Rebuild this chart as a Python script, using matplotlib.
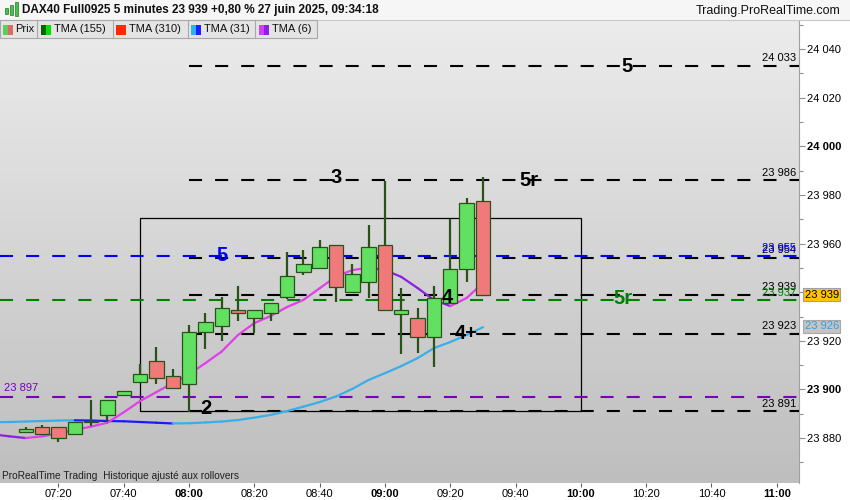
import matplotlib.pyplot as plt
import numpy as np
from matplotlib.collections import LineCollection
from matplotlib.colors import LinearSegmentedColormap
from matplotlib.patches import Rectangle

plt.rcParams["font.family"] = ["Liberation Sans", "DejaVu Sans"]
plt.rcParams["lines.scale_dashes"] = False

# ---- values ----
candle_times = ["07:10", "07:15", "07:20", "07:25", "07:30", "07:35", "07:40",
                "07:45", "07:50", "07:55", "08:00", "08:05", "08:10", "08:15",
                "08:20", "08:25", "08:30", "08:35", "08:40", "08:45", "08:50",
                "08:55", "09:00", "09:05", "09:10", "09:15", "09:20", "09:25",
                "09:30"]
opens = [23882.3, 23884.4, 23884.4, 23881.5, 23886.5, 23889.3, 23897.6,
         23903.2, 23911.6, 23905.4, 23902.3, 23923.5, 23926.2, 23932.6,
         23929.3, 23931.3, 23938.0, 23948.4, 23950.1, 23959.3, 23940.2,
         23944.3, 23959.3, 23931.2, 23929.3, 23921.4, 23935.7, 23949.4,
         23977.4]
highs = [23884.4, 23885.3, 23884.4, 23886.5, 23895.6, 23895.5, 23899.2,
         23910.3, 23917.3, 23908.3, 23926.5, 23931.3, 23938.1, 23942.6,
         23932.6, 23935.4, 23956.4, 23957.4, 23961.5, 23959.3, 23951.5,
         23967.7, 23985.8, 23941.6, 23933.4, 23942.4, 23970.1, 23978.6,
         23987.5]
lows = [23882.3, 23881.5, 23878.2, 23881.5, 23885.1, 23886.5, 23897.6,
        23903.2, 23902.2, 23900.5, 23890.8, 23916.5, 23920.0, 23928.3,
        23923.3, 23928.3, 23937.2, 23947.1, 23950.1, 23936.1, 23940.2,
        23937.5, 23932.6, 23914.4, 23915.1, 23909.3, 23935.7, 23944.3,
        23939.0]
closes = [23883.6, 23881.5, 23880.1, 23886.5, 23886.5, 23895.5, 23899.2,
          23906.2, 23904.6, 23900.5, 23923.5, 23927.6, 23933.4, 23931.3,
          23932.6, 23935.4, 23946.5, 23951.5, 23958.5, 23942.3, 23947.4,
          23958.5, 23932.6, 23932.7, 23921.4, 23937.5, 23949.4, 23976.6,
          23939.0]

ma_times = ["07:00", "07:05"] + candle_times
tma31 = [23886.5, 23886.6, 23886.8, 23887.0, 23887.2, 23887.3, 23887.2,
         23887.0, 23886.9, 23886.6, 23886.3, 23886.0, 23886.1, 23886.4,
         23886.8, 23887.4, 23888.4, 23889.5, 23891.1, 23892.9, 23894.8,
         23897.1, 23900.2, 23903.9, 23906.7, 23909.6, 23912.9, 23917.0,
         23919.5, 23922.4, 23925.6]
tma6 = [23881.5, 23880.7, 23880.0, 23880.7, 23881.9, 23883.3, 23884.7,
        23886.3, 23890.6, 23895.2, 23898.9, 23902.6, 23906.3, 23910.8,
        23915.6, 23922.4, 23927.3, 23930.2, 23933.9, 23936.8, 23941.6,
        23946.5, 23949.1, 23950.1, 23949.1, 23946.3, 23941.7, 23936.8,
        23934.3, 23937.6, 23943.8]

black_levels = [24033, 23986, 23954, 23939, 23923, 23891]
blue_level = 23955
green_level = 23937
purple_level = 23897

wave_labels = ["5", "3", "5r", "5", "4", "5r", "4+", "2"]
wave_times = ["10:14", "08:45", "09:44", "08:10", "09:19", "10:13", "09:25", "08:05"]
wave_prices = [24033, 23987, 23986, 23955, 23938, 23937.5, 23923, 23892.3]
wave_colors = ["black", "black", "black", "#0000ff", "black", "#008000", "black", "black"]

box_times = ["07:45", "10:00"]
box_prices = [23891, 23970.5]

last_price = 23939
last_tma31 = 23926

x_ticks = ["07:20", "07:40", "08:00", "08:20", "08:40", "09:00", "09:20",
           "09:40", "10:00", "10:20", "10:40", "11:00"]
y_ticks = [23880, 23900, 23920, 23940, 23960, 23980, 24000, 24020, 24040]


def tmin(s):
    h, m = s.split(":")
    return int(h) * 60 + int(m)


def fmt(v):
    return f"{int(round(v)):,}".replace(",", " ")


def colored_line(ax, xs, ys, up, down, lw=1.6):
    pts = np.column_stack([xs, ys])
    segs = np.stack([pts[:-1], pts[1:]], axis=1)
    cols = [up if ys[i + 1] >= ys[i] else down for i in range(len(ys) - 1)]
    ax.add_collection(LineCollection(segs, colors=cols, linewidths=lw,
                                     capstyle="round", zorder=4))


W, H = 850, 500
fig = plt.figure(figsize=(8.5, 5), dpi=100)
fig.patch.set_facecolor("white")
ax = fig.add_axes([0, 17 / H, 799 / W, 463 / H])

# gradient background
bg = LinearSegmentedColormap.from_list("bg", ["#ececec", "#bebebe"])
ax.imshow(np.linspace(0, 1, 256).reshape(-1, 1), cmap=bg, aspect="auto",
          extent=[0, 1, 0, 1], transform=ax.transAxes, zorder=0)

xl = (422.1, 666.8)
yl = (23861.5, 24052.0)

# rectangle
bx = [tmin(t) for t in box_times]
ax.add_patch(Rectangle((bx[0], box_prices[0]), bx[1] - bx[0],
                       box_prices[1] - box_prices[0], fill=False,
                       edgecolor="black", lw=0.9, zorder=2))

# horizontal levels
dash = (0, (9.4, 9.4))
x_start = tmin("08:00")
for lv in black_levels:
    ax.plot([x_start, xl[1]], [lv, lv], color="black", lw=1.5, ls=dash, zorder=3)
ax.plot(xl, [blue_level] * 2, color="#0000ff", lw=1.5, ls=dash, zorder=3)
ax.plot(xl, [green_level] * 2, color="#008000", lw=1.5, ls=dash, zorder=3)
ax.plot(xl, [purple_level] * 2, color="#7a00c0", lw=1.5, ls=dash, zorder=3)

# level value labels
for lv in black_levels:
    ax.annotate(fmt(lv), (xl[1], lv), xytext=(-2, 2), textcoords="offset points",
                ha="right", va="bottom", fontsize=8, color="black", zorder=6)
ax.annotate(fmt(blue_level), (xl[1], blue_level), xytext=(-2, 2),
            textcoords="offset points", ha="right", va="bottom", fontsize=8,
            color="#0000ff", zorder=6)
ax.annotate(fmt(green_level), (xl[1], green_level), xytext=(-2, 1),
            textcoords="offset points", ha="right", va="bottom", fontsize=8,
            color="#008000", zorder=6)
ax.annotate(fmt(purple_level), (xl[0], purple_level), xytext=(3, 2.5),
            textcoords="offset points", ha="left", va="bottom", fontsize=8,
            color="#7a00c0", zorder=6)

# moving averages
mx = [tmin(t) for t in ma_times]
colored_line(ax, mx, tma31, "#3aaee8", "#1a1aff")
colored_line(ax, mx, tma6, "#e040e8", "#8a20e0")

# candles
cx = [tmin(t) for t in candle_times]
bw = 4.4
edge = "#2a5218"
for x, o, h, l, c in zip(cx, opens, highs, lows, closes):
    ax.vlines(x, l, h, color=edge, lw=1.6, zorder=5)
    face = "#62e062" if c >= o else "#f07a7a"
    ax.add_patch(Rectangle((x - bw / 2, min(o, c)), bw, max(abs(c - o), 0.5),
                           facecolor=face, edgecolor=edge, lw=0.9, zorder=5))

# wave labels
for txt, t, p, col in zip(wave_labels, wave_times, wave_prices, wave_colors):
    ax.text(tmin(t), p, txt, ha="center", va="center", fontsize=14.5,
            fontweight="bold", color=col, zorder=7)

ax.set_xlim(*xl)
ax.set_ylim(*yl)

# axes styling
for s in ["top", "bottom", "left"]:
    ax.spines[s].set_visible(False)
ax.spines["right"].set_color("#a0a0a0")
ax.yaxis.tick_right()
ax.set_yticks(y_ticks)
ax.set_yticks(np.arange(23870, 24051, 10), minor=True)
ax.set_yticklabels([fmt(v) for v in y_ticks])
for lab, v in zip(ax.get_yticklabels(), y_ticks):
    if v % 100 == 0:
        lab.set_fontweight("bold")
        lab.set_fontsize(9)
ax.tick_params(axis="y", which="major", direction="out", length=4, width=0.8,
               color="#909090", labelsize=8, pad=2)
ax.tick_params(axis="y", which="minor", direction="out", length=3, width=0.8,
               color="#909090")
ax.set_xticks([tmin(t) for t in x_ticks])
ax.set_xticklabels(x_ticks)
for lab, t in zip(ax.get_xticklabels(), x_ticks):
    if t.endswith(":00"):
        lab.set_fontweight("bold")
        lab.set_fontsize(9)
ax.tick_params(axis="x", direction="out", length=3, width=0.8,
               color="#606060", labelsize=8, pad=1)

# price tags on the right axis
ax.annotate(fmt(last_price), (1, last_price), xycoords=("axes fraction", "data"),
            xytext=(4, 0), textcoords="offset points", ha="left", va="center",
            fontsize=8, color="black", zorder=10, annotation_clip=False,
            bbox=dict(boxstyle="square,pad=0.15", fc="#ffc400", ec="#a0a0a0", lw=0.8))
ax.annotate(fmt(last_tma31), (1, last_tma31), xycoords=("axes fraction", "data"),
            xytext=(4, 0), textcoords="offset points", ha="left", va="center",
            fontsize=8, color="#30a0e0", zorder=10, annotation_clip=False,
            bbox=dict(boxstyle="square,pad=0.15", fc="#c4c4c4", ec="#a8a8a8", lw=0.8))

# header row
fig.patches.append(Rectangle((0, 480 / H), 1, 20 / H, transform=fig.transFigure,
                             facecolor="#f6f6f6", edgecolor="none", zorder=0))
fig.add_artist(plt.Line2D([0, 1], [480 / H, 480 / H], color="#c8c8c8", lw=0.8))
# small candle icon
for i, (x0, y0, hh) in enumerate([(5, 8, 6), (10, 5, 10), (15, 2, 14)]):
    fig.patches.append(Rectangle((x0 / W, 1 - (y0 + hh) / H), 3 / W, hh / H,
                                 transform=fig.transFigure, facecolor="#4cc04c",
                                 edgecolor="#2a7a2a", lw=0.5))
fig.text(22 / W, 1 - 10 / H, "DAX40 Full0925 5 minutes 23 939 +0,80 % 27 juin 2025, 09:34:18",
         fontsize=8.5, fontweight="bold", ha="left", va="center", color="#101010")
fig.text(840 / W, 1 - 11 / H, "Trading.ProRealTime.com", fontsize=9,
         ha="right", va="center", color="#101010")

# legend bar
fig.patches.append(Rectangle((0, 1 - 38 / H), 317 / W, 18 / H, transform=fig.transFigure,
                             facecolor="#e4e4e4", edgecolor="#a8a8a8", lw=0.8, zorder=3))
for sx in [37, 113, 188, 255]:
    fig.add_artist(plt.Line2D([sx / W, sx / W], [1 - 38 / H, 1 - 20 / H],
                              color="#a8a8a8", lw=0.8, zorder=4))
legend_items = [("Prix", 3, 15.5, ["#5ad05a", "#e06868"]),
                ("TMA (155)", 41, 54, ["#006400", "#00e000"]),
                ("TMA (310)", 116, 129, ["#ff2a00", "#ff2a00"]),
                ("TMA (31)", 191, 204, ["#30b0f0", "#2020ff"]),
                ("TMA (6)", 259, 272.5, ["#d040f0", "#9020e0"])]
for name, sx, tx, cols in legend_items:
    for k, c in enumerate(cols):
        fig.patches.append(Rectangle(((sx + k * 5) / W, 1 - 35 / H), 5 / W, 10 / H,
                                     transform=fig.transFigure, facecolor=c,
                                     edgecolor="none", zorder=5))
    fig.text(tx / W, 1 - 29.5 / H, name, fontsize=8, ha="left", va="center",
             color="#101010", zorder=6)

fig.text(2 / W, 1 - 476 / H, "ProRealTime Trading  Historique ajusté aux rollovers",
         fontsize=7.3, ha="left", va="center", color="#202020")

fig.savefig("out.png", dpi=100)
